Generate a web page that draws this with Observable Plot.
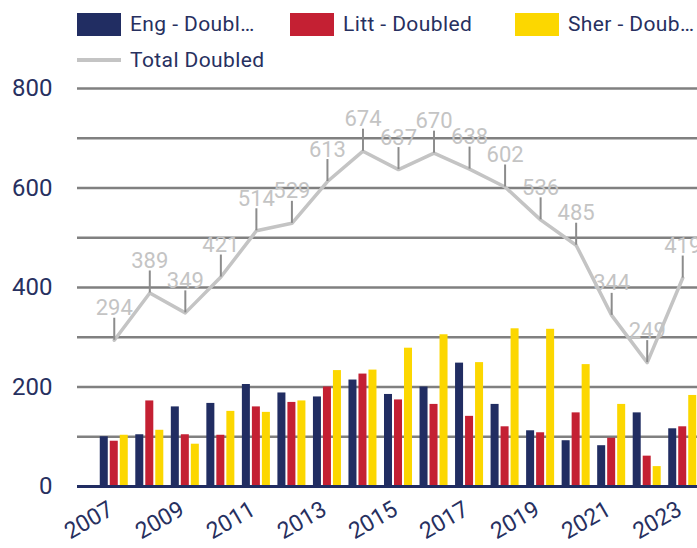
<!DOCTYPE html>
<html><head><meta charset="utf-8">
<script src="https://cdn.jsdelivr.net/npm/d3@7"></script>
<script src="https://cdn.jsdelivr.net/npm/@observablehq/plot@0.6"></script>
<style>
html,body{margin:0;padding:0;overflow:hidden;background:#fff;width:697px;height:548px;}
#wrap{position:relative;width:697px;height:548px;overflow:hidden;font-family:Roboto,sans-serif;}
#chart{position:absolute;left:0;top:0;width:710px;}
#chart svg{max-width:none !important;width:710px;height:548px;}
.item{position:absolute;display:flex;align-items:center;color:#27305f;font-size:21px;letter-spacing:0.4px;white-space:nowrap;height:24px;}
.sw{width:44px;height:23px;margin-right:9px;flex:none;}
.ln{width:44px;height:4px;margin-right:9px;background:#c4c4c4;flex:none;}
</style></head>
<body><div id="wrap"><div id="chart"></div></div>
<script>
const years = [2007,2008,2009,2010,2011,2012,2013,2014,2015,2016,2017,2018,2019,2020,2021,2022,2023];
const eng   = [100,104,160,167,205,188,180,214,185,200,248,165,112,92,82,148,116];
const litt  = [91,172,104,103,160,169,200,226,174,165,141,120,108,148,97,61,120];
const sher  = [103,113,85,151,149,172,233,234,278,305,249,317,316,245,165,40,183];
const total = [294,389,349,421,514,529,613,674,637,670,638,602,536,485,344,249,419];
const xTicks = [2007,2009,2011,2013,2015,2017,2019,2021,2023];
const yTicks = [0,200,400,600,800];
const gridTicks = [0,100,200,300,400,500,600,700,800];
const seriesNames = ["Eng - Doubl…","Litt - Doubled","Sher - Doub…","Total Doubled"];
const colors = {eng:"#212d62", litt:"#c42033", sher:"#fcd700", total:"#c4c4c4"};

const rows = years.map((y,i)=>({year:y, eng:eng[i], litt:litt[i], sher:sher[i], total:total[i]}));
const navy = "#27305f";
const ins = 13.76;

const chart = Plot.plot({
  width:710, height:548, marginTop:88, marginBottom:62, marginLeft:77, marginRight:0,
  style:{fontFamily:"Roboto, sans-serif", background:"transparent", overflow:"visible", maxWidth:"none"},
  x:{type:"band", domain:years, padding:0, round:false, insetLeft:19, insetRight:10},
  y:{domain:[0,800]},
  marks:[
    Plot.gridY({ticks:gridTicks, stroke:"#808080", strokeOpacity:1, strokeWidth:2.5}),
    Plot.barY(rows,{x:"year", y:"eng", fill:colors.eng, dx:-10, insetLeft:ins, insetRight:ins}),
    Plot.barY(rows,{x:"year", y:"litt", fill:colors.litt, dx:0, insetLeft:ins, insetRight:ins}),
    Plot.barY(rows,{x:"year", y:"sher", fill:colors.sher, dx:10, insetLeft:ins, insetRight:ins}),
    Plot.ruleY([0],{stroke:colors.eng, strokeWidth:3}),
    Plot.lineY(rows,{x:"year", y:"total", stroke:colors.total, strokeWidth:3.5}),
    Plot.ruleX(rows,{x:"year", y1:"total", y2:"total", insetTop:-22, stroke:"#8c8c8c", strokeWidth:2}),
    Plot.text(rows,{x:"year", y:"total", text:d=>String(d.total), dy:-25, lineAnchor:"bottom", fill:"#c4c4c4", fontSize:22}),
    Plot.axisY({ticks:yTicks, tickSize:0, tickPadding:25, fontSize:24, color:navy, label:null}),
    Plot.axisX({ticks:xTicks, tickSize:0, tickPadding:21, tickRotate:-30, dx:-3, fontSize:23, color:navy, label:null, tickFormat:d=>`${d}`})
  ]
});
document.getElementById("chart").appendChild(chart);

const wrap = document.getElementById("wrap");
const legendItems = [
  {name:seriesNames[0], color:colors.eng, left:77, top:12, line:false},
  {name:seriesNames[1], color:colors.litt, left:290, top:12, line:false},
  {name:seriesNames[2], color:colors.sher, left:515, top:12, line:false},
  {name:seriesNames[3], color:colors.total, left:77, top:48, line:true}
];
for (const it of legendItems) {
  const d = document.createElement("div");
  d.className = "item";
  d.style.left = it.left + "px"; d.style.top = it.top + "px";
  const s = document.createElement("div");
  s.className = it.line ? "ln" : "sw";
  s.style.background = it.color;
  d.appendChild(s);
  const t = document.createElement("span");
  t.textContent = it.name;
  d.appendChild(t);
  wrap.appendChild(d);
}
</script></body></html>
